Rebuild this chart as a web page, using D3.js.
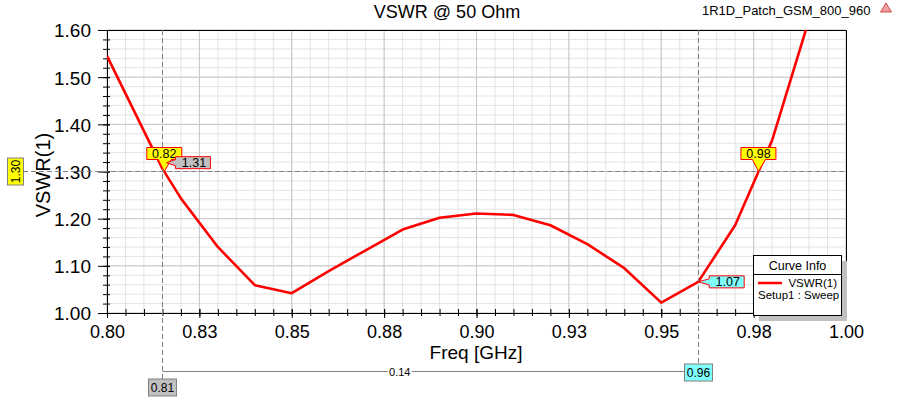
<!DOCTYPE html>
<html>
<head>
<meta charset="utf-8">
<script src="https://cdn.jsdelivr.net/npm/d3@7"></script>
<style>
  body { margin: 0; background: #fff; }
  #chart { width: 907px; height: 398px; }
  text { font-family: "Liberation Sans", Arial, sans-serif; }
</style>
</head>
<body>
<div id="chart"></div>
<script>
// sweep data
const freqs = [0.80, 0.815, 0.82, 0.83, 0.84, 0.85, 0.86, 0.87, 0.88, 0.89, 0.90,
               0.91, 0.92, 0.93, 0.94, 0.95, 0.96, 0.97, 0.98, 0.99, 1.00];
const vswr  = [1.545, 1.306, 1.243, 1.140, 1.059, 1.042, 1.089, 1.133, 1.177, 1.202, 1.211,
               1.208, 1.186, 1.146, 1.095, 1.022, 1.066, 1.186, 1.366, 1.622, 1.900];

const xTicks = [0.800, 0.825, 0.850, 0.875, 0.900, 0.925, 0.950, 0.975, 1.000];
const xTickLabels = ["0.80", "0.83", "0.85", "0.88", "0.90", "0.93", "0.95", "0.98", "1.00"];
const yTicks = [1.0, 1.1, 1.2, 1.3, 1.4, 1.5, 1.6];
const yTickLabels = ["1.00", "1.10", "1.20", "1.30", "1.40", "1.50", "1.60"];

// markers
const levelValue = 1.30, levelLabel = "1.30";
const crossFreqs = [0.8155, 0.9763];
const crossLabels = ["0.82", "0.98"];
const pointFreqs = [0.815, 0.96];
const pointVals = [1.306, 1.066];
const pointLabels = ["1.31", "1.07"];
const bottomLabels = ["0.81", "0.96"];
const deltaLabel = "0.14";

class VswrChart {
  constructor(opts) {
    this.element = opts.element;
    this.draw();
  }

  draw() {
    this.margin = {top: 30, right: 61, bottom: 85, left: 107};
    this.width = 907 - this.margin.left - this.margin.right;
    this.height = 398 - this.margin.top - this.margin.bottom;

    this.svg = d3.select(this.element).append("svg")
      .attr("width", 907).attr("height", 398);

    this.chart = this.svg.append("g")
      .attr("transform", "translate(" + this.margin.left + "," + this.margin.top + ")");

    this.createScales();
    this.addGrid();
    this.addAxes();
    this.addCurve();
    this.addMarkers();
    this.addLegend();
    this.addTitles();
  }

  createScales() {
    this.x = d3.scaleLinear().domain([0.8, 1.0]).range([0, this.width]);
    this.y = d3.scaleLinear().domain([1.0, 1.6]).range([this.height, 0]);
    this.xMinor = d3.range(0, 41).map(i => 0.8 + i * 0.005);
    this.yMinor = d3.range(0, 31).map(i => 1.0 + i * 0.02);
  }

  addGrid() {
    const g = this.chart.append("g");
    g.selectAll(".vminor").data(this.xMinor).join("line")
      .attr("x1", d => this.x(d)).attr("x2", d => this.x(d))
      .attr("y1", 0).attr("y2", this.height)
      .attr("stroke", "#e4e4e4");
    g.selectAll(".hminor").data(this.yMinor).join("line")
      .attr("y1", d => this.y(d)).attr("y2", d => this.y(d))
      .attr("x1", 0).attr("x2", this.width)
      .attr("stroke", "#e4e4e4");
    g.append("g").selectAll("line").data(xTicks).join("line")
      .attr("x1", d => this.x(d)).attr("x2", d => this.x(d))
      .attr("y1", 0).attr("y2", this.height)
      .attr("stroke", "#c8c8cc");
    g.append("g").selectAll("line").data(yTicks).join("line")
      .attr("y1", d => this.y(d)).attr("y2", d => this.y(d))
      .attr("x1", 0).attr("x2", this.width)
      .attr("stroke", "#c8c8cc");

    // frame top + right
    this.chart.append("path")
      .attr("d", "M0,0.5H" + (this.width + 0.5) + "V" + this.height)
      .attr("fill", "none").attr("stroke", "#000");
  }

  addAxes() {
    const xMinorAxis = d3.axisBottom(this.x).tickValues(this.xMinor).tickFormat("").tickSize(3).tickSizeOuter(0);
    this.chart.append("g").attr("transform", "translate(0," + this.height + ")")
      .call(xMinorAxis)
      .call(g => g.selectAll(".tick line").attr("y1", -4));

    const xaxis = d3.axisBottom(this.x).tickValues(xTicks)
      .tickFormat((d, i) => xTickLabels[i]).tickSize(5).tickSizeOuter(0);
    this.chart.append("g").attr("id", "x-axis")
      .attr("transform", "translate(0," + this.height + ")")
      .call(xaxis)
      .call(g => g.selectAll(".tick line").attr("y1", -4))
      .selectAll("text")
        .attr("y", 25).attr("dy", 0)
        .attr("font-size", "18px").attr("fill", "#000");

    const yMinorAxis = d3.axisLeft(this.y).tickValues(this.yMinor).tickFormat("").tickSize(4).tickSizeOuter(0);
    this.chart.append("g").call(yMinorAxis)
      .call(g => g.selectAll(".tick line").attr("x1", 3));

    const yaxis = d3.axisLeft(this.y).tickValues(yTicks)
      .tickFormat((d, i) => yTickLabels[i]).tickSize(9).tickSizeOuter(0);
    this.chart.append("g").attr("id", "y-axis")
      .call(yaxis)
      .call(g => g.selectAll(".tick line").attr("x1", 3))
      .selectAll("text")
        .attr("x", -16).attr("dy", "0.36em")
        .attr("font-size", "19px").attr("fill", "#000");

    this.chart.selectAll(".domain").attr("stroke", "#000");
  }

  addCurve() {
    this.svg.append("clipPath").attr("id", "plot-clip")
      .append("rect").attr("width", this.width).attr("height", this.height);

    const line = d3.line()
      .x((d, i) => this.x(freqs[i]))
      .y(d => this.y(d));

    this.chart.append("path")
      .attr("clip-path", "url(#plot-clip)")
      .attr("d", line(vswr))
      .attr("fill", "none")
      .attr("stroke", "#ff0000")
      .attr("stroke-width", 2.6)
      .attr("stroke-linejoin", "round");
  }

  addMarkers() {
    const g = this.chart.append("g");
    const L = this.margin.left;
    const dash = "5,3";
    const ly = this.y(levelValue);

    // level line + y label
    g.append("line")
      .attr("x1", 23 - L).attr("x2", this.width)
      .attr("y1", ly).attr("y2", ly)
      .attr("stroke", "#808080").attr("stroke-dasharray", dash);
    g.append("rect")
      .attr("x", 7 - L + 0.5).attr("y", ly - 13.5).attr("width", 16).attr("height", 27)
      .attr("fill", "#ffff00").attr("stroke", "#808080");
    g.append("text")
      .attr("transform", "translate(" + (15 - L + 4.5) + "," + ly + ") rotate(-90)")
      .attr("text-anchor", "middle").attr("font-size", "12px")
      .text(levelLabel);

    // vertical dashed lines, bottom labels, delta line
    const boxTops = [this.height + 66, this.height + 51];
    const fills = ["#c0c0c0", "#80ffff"];
    pointFreqs.forEach((f, i) => {
      const px = Math.round(this.x(f)) + 0.5;
      g.append("line")
        .attr("x1", px).attr("x2", px).attr("y1", 0).attr("y2", boxTops[i])
        .attr("stroke", "#808080").attr("stroke-dasharray", dash);
    });
    const dy = this.height + 58.5;
    const x0 = Math.round(this.x(pointFreqs[0])) + 0.5;
    const x1 = Math.round(this.x(pointFreqs[1])) - 14;
    g.append("line").attr("x1", x0).attr("x2", x1).attr("y1", dy).attr("y2", dy)
      .attr("stroke", "#808080");
    const dx = x0 + (x1 - x0) * 0.455;
    g.append("rect").attr("x", dx - 12).attr("y", dy - 7).attr("width", 24).attr("height", 13)
      .attr("fill", "#fff");
    g.append("text").attr("x", dx).attr("y", dy + 4)
      .attr("text-anchor", "middle").attr("font-size", "11px").text(deltaLabel);

    pointFreqs.forEach((f, i) => {
      const px = Math.round(this.x(f)) + 0.5;
      g.append("rect")
        .attr("x", px - 14).attr("y", boxTops[i]).attr("width", 28).attr("height", 17)
        .attr("fill", fills[i]).attr("stroke", "#808080");
      g.append("text").attr("x", px).attr("y", boxTops[i] + 13)
        .attr("text-anchor", "middle").attr("font-size", "12px").text(bottomLabels[i]);
    });

    // crossing markers (yellow flags)
    crossFreqs.forEach((f, i) => {
      const tx = this.x(f), ty = ly;
      const bw = 35, bh = 12, bl = tx - bw / 2, bb = ty - 12, bt = bb - bh;
      g.append("path")
        .attr("d", "M" + bl + "," + bt + "H" + (bl + bw) + "V" + bb + "H" + (tx + 7) +
          "L" + tx + "," + ty + "L" + (tx - 6) + "," + bb + "H" + bl + "Z")
        .attr("fill", "#ffff00").attr("stroke", "#ff0000").attr("stroke-width", 1);
      g.append("text").attr("x", tx).attr("y", bt + 10.5)
        .attr("text-anchor", "middle").attr("font-size", "12.5px").text(crossLabels[i]);
    });

    // point markers (arrow boxes)
    const offs = [{ax: 4, ay: -6, gap: 9}, {ax: 0, ay: 0, gap: 11}];
    pointFreqs.forEach((f, i) => {
      const o = offs[i];
      const tx = this.x(f) + o.ax, ty = this.y(pointVals[i]) + o.ay;
      const bl = tx + o.gap, bw = 35, bh = 12, bt = ty - bh / 2;
      g.append("path")
        .attr("d", "M" + tx + "," + ty + "L" + bl + "," + (ty - 3) + "V" + bt + "H" + (bl + bw) +
          "V" + (bt + bh) + "H" + bl + "V" + (ty + 3) + "Z")
        .attr("fill", fills[i]).attr("stroke", "#ff0000");
      g.append("text").attr("x", bl + bw / 2 + 1).attr("y", bt + 10.5)
        .attr("text-anchor", "middle").attr("font-size", "12.5px").text(pointLabels[i]);
    });
  }

  addLegend() {
    const lx = 753 - this.margin.left, ly = 255 - this.margin.top, lw = 88, lh = 60;
    const g = this.chart.append("g").attr("transform", "translate(" + lx + "," + ly + ")");
    g.append("rect").attr("x", 6).attr("y", 6).attr("width", lw).attr("height", lh)
      .attr("fill", "#c0c0c0");
    g.append("rect").attr("x", 0.5).attr("y", 0.5).attr("width", lw).attr("height", lh)
      .attr("fill", "#fff").attr("stroke", "#000");
    g.append("text").attr("x", lw / 2 + 0.5).attr("y", 14.5).attr("text-anchor", "middle")
      .attr("font-size", "12.5px").text("Curve Info");
    g.append("line").attr("x1", 0).attr("x2", lw).attr("y1", 19.5).attr("y2", 19.5)
      .attr("stroke", "#000");
    g.append("line").attr("x1", 5).attr("x2", 29).attr("y1", 28).attr("y2", 28)
      .attr("stroke", "#ff0000").attr("stroke-width", 2.5);
    g.append("text").attr("x", 84).attr("y", 32).attr("text-anchor", "end")
      .attr("font-size", "11.5px").text("VSWR(1)");
    g.append("text").attr("x", 5).attr("y", 43.5)
      .attr("font-size", "11.5px").text("Setup1 : Sweep");
  }

  addTitles() {
    this.svg.append("text").attr("x", 447).attr("y", 18).attr("text-anchor", "middle")
      .attr("font-size", "18px").text("VSWR @ 50 Ohm");
    this.svg.append("text").attr("x", 702).attr("y", 15)
      .attr("font-size", "13px").text("1R1D_Patch_GSM_800_960");
    this.svg.append("path").attr("d", "M886,3L891.5,12H880.5Z")
      .attr("fill", "#f0a0a0").attr("stroke", "#c03030").attr("stroke-width", 0.8);
    this.svg.append("text")
      .attr("transform", "translate(50,175) rotate(-90)")
      .attr("text-anchor", "middle").attr("font-size", "20px").text("VSWR(1)");
    this.svg.append("text").attr("x", 476).attr("y", 359).attr("text-anchor", "middle")
      .attr("font-size", "19px").text("Freq [GHz]");
  }
}

new VswrChart({element: document.getElementById("chart")});
</script>
</body>
</html>
